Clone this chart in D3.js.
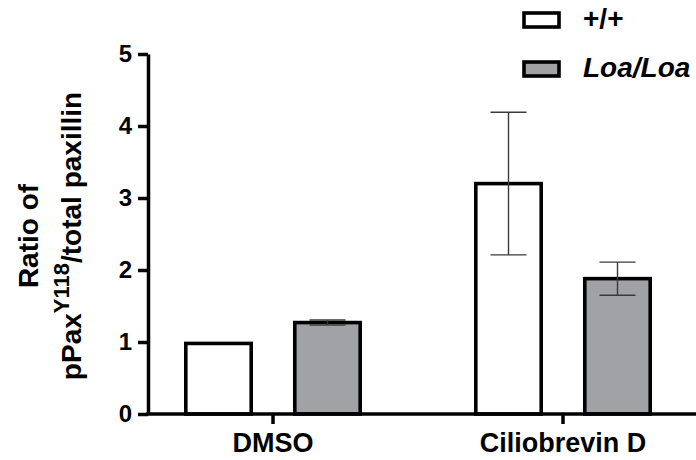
<!DOCTYPE html>
<html>
<head>
<meta charset="utf-8">
<script src="https://cdn.jsdelivr.net/npm/d3@7"></script>
<style>
  html, body { margin: 0; padding: 0; background: #fff; }
  svg { display: block; font-family: "Liberation Sans", Arial, sans-serif; }
</style>
</head>
<body>
<svg id="chart" width="696" height="460"></svg>
<script>
// Treatment groups along the x axis
const groups = ["DMSO", "Ciliobrevin D"];
// Genotypes (one bar per genotype in each group)
const series = ["+/+", "Loa/Loa"];
// Mean ratio per genotype, in group order
const wildTypeMeans = [0.98, 3.2];
const loaMeans = [1.27, 1.88];
// Error (SEM) per genotype, in group order
const wildTypeErrors = [0, 0.99];
const loaErrors = [0.035, 0.23];
// Y axis ticks
const yTicks = [0, 1, 2, 3, 4, 5];

const fills = { "+/+": "#ffffff", "Loa/Loa": "#a1a2a5" };

const rows = [];
groups.forEach((g, i) => {
  rows.push({ group: g, series: "+/+", value: wildTypeMeans[i], err: wildTypeErrors[i] });
  rows.push({ group: g, series: "Loa/Loa", value: loaMeans[i], err: loaErrors[i] });
});

const svg = d3.select("#chart");
const axisX = 148, baseY = 414, topY = 54, rightX = 696;

const y = d3.scaleLinear().domain([0, 5]).range([baseY, topY]);
const x0 = d3.scaleBand().domain(groups).range([128, 708]).paddingInner(0).paddingOuter(0);
const x1 = d3.scaleBand().domain(series).range([-109, 109]).paddingInner(0.4).paddingOuter(0.2);

// Bars
svg.append("g").selectAll("rect").data(rows).join("rect")
  .attr("x", d => x0(d.group) + x0.bandwidth() / 2 + x1(d.series))
  .attr("width", x1.bandwidth())
  .attr("y", d => y(d.value))
  .attr("height", d => y(0) - y(d.value))
  .attr("fill", d => fills[d.series])
  .attr("stroke", "#000")
  .attr("stroke-width", 3.6);

// Error bars (mean ± SEM)
const capHalf = 18;
const eg = svg.append("g").attr("stroke", "#3a3a3a").attr("stroke-width", 1.4).attr("fill", "none");
rows.filter(d => d.err > 0).forEach(d => {
  const cx = x0(d.group) + x0.bandwidth() / 2 + x1(d.series) + x1.bandwidth() / 2;
  const hi = y(d.value + d.err), lo = y(d.value - d.err);
  eg.append("line").attr("x1", cx).attr("x2", cx).attr("y1", hi).attr("y2", lo);
  eg.append("line").attr("x1", cx - capHalf).attr("x2", cx + capHalf).attr("y1", hi).attr("y2", hi);
  eg.append("line").attr("x1", cx - capHalf).attr("x2", cx + capHalf).attr("y1", lo).attr("y2", lo);
});

// Y axis
const yAxis = svg.append("g")
  .attr("transform", `translate(${axisX},0)`)
  .call(d3.axisLeft(y).tickValues(yTicks).tickFormat(d3.format("d"))
    .tickSize(10).tickPadding(6).tickSizeOuter(0));
yAxis.select(".domain").attr("stroke", "#000").attr("stroke-width", 3.5);
yAxis.selectAll(".tick line").attr("stroke", "#000").attr("stroke-width", 3.5);
yAxis.selectAll(".tick text")
  .attr("font-size", 24).attr("font-weight", "bold").attr("fill", "#000")
  .attr("font-family", "Liberation Sans, Arial, sans-serif");

// X axis
const xAxis = svg.append("g")
  .attr("transform", `translate(0,${baseY})`)
  .call(d3.axisBottom(x0).tickSize(10).tickPadding(9).tickSizeOuter(0));
xAxis.select(".domain").attr("d", `M${axisX - 1.75},0H${rightX}`).attr("stroke", "#000").attr("stroke-width", 3.5);
xAxis.selectAll(".tick line").attr("stroke", "#000").attr("stroke-width", 3.5);
xAxis.selectAll(".tick text")
  .attr("font-size", 27).attr("font-weight", "bold").attr("fill", "#000")
  .attr("font-family", "Liberation Sans, Arial, sans-serif");

// Y axis title: two lines, the second with a superscript residue label
const title = svg.append("text")
  .attr("transform", "translate(0,236) rotate(-90)")
  .attr("text-anchor", "middle")
  .attr("font-size", 28).attr("font-weight", "bold").attr("fill", "#000");
title.append("tspan").attr("x", 0).attr("y", 38).text("Ratio of");
const l2 = title.append("tspan").attr("x", 0).attr("y", 81);
l2.append("tspan").text("pPax");
l2.append("tspan").attr("font-size", 22).attr("dy", -12).text("Y118");
l2.append("tspan").attr("dy", 12).text("/total paxillin");

// Legend
const legend = svg.append("g").selectAll("g").data(series).join("g")
  .attr("transform", (d, i) => `translate(524,${13 + i * 49})`);
legend.append("rect")
  .attr("width", 35).attr("height", 14)
  .attr("fill", d => fills[d]).attr("stroke", "#000").attr("stroke-width", 3.6);
legend.append("text")
  .attr("x", 59).attr("y", 15)
  .attr("font-size", 28).attr("font-weight", "bold")
  .attr("font-style", (d, i) => i === 1 ? "italic" : "normal")
  .attr("fill", "#000")
  .text(d => d);
</script>
</body>
</html>
